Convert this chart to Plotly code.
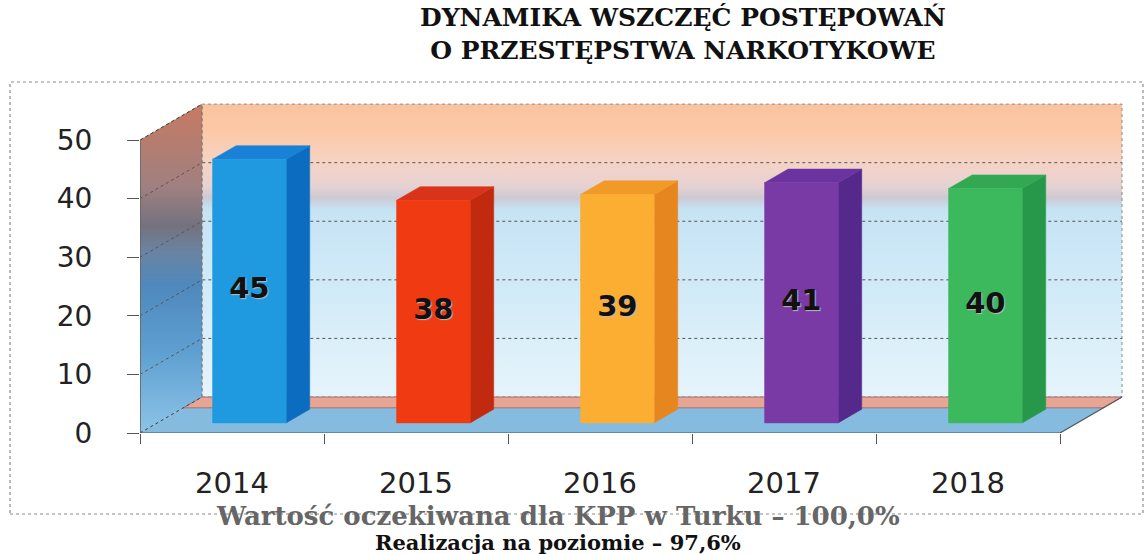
import plotly.graph_objects as go

# ---------------- data ----------------
years = ["2014", "2015", "2016", "2017", "2018"]
values = [45, 38, 39, 41, 40]
front_colors = ["#1f9ae0", "#f03a12", "#fbae32", "#7a3aa6", "#3cb95c"]
side_colors = ["#0b6cc0", "#c22a10", "#e6861e", "#55288c", "#27974a"]
top_colors = ["#1982d6", "#d9341a", "#f29a28", "#6a33a0", "#33a852"]
y_ticks = [0, 10, 20, 30, 40, 50]
title_lines = ["DYNAMIKA WSZCZĘĆ POSTĘPOWAŃ", "O PRZESTĘPSTWA NARKOTYKOWE"]
note_lines = ["Wartość oczekiwana dla KPP w Turku – 100,0%", "Realizacja na poziomie – 97,6%"]

# ---------------- geometry (oblique projection) ----------------
W, H = 1145, 554
L_PX, R_PX, T_PX, B_PX = 140, 1130, 95, 433
PX_X = 184.0
X0 = -0.5
X1 = X0 + (R_PX - L_PX) / PX_X
Y_TOP = 57.7
PX_Y = (B_PX - T_PX) / Y_TOP
DX = 62.0 / PX_X          # depth offset in x units
DY = 36.0 / PX_Y          # depth offset in y units
D0, D1 = 0.28, 0.66       # bar depth range
HALF = 0.2                # half bar width
N = len(years)
XMIN, XMAX = -0.5, N - 0.5
YMAX = max(y_ticks)


def proj(x, y, d):
    return x + d * DX, y + d * DY


def poly(pts):
    xs = [p[0] for p in pts] + [pts[0][0]]
    ys = [p[1] for p in pts] + [pts[0][1]]
    return xs, ys


def px2paper(px, py):
    return (px - L_PX) / (R_PX - L_PX), (B_PX - py) / (B_PX - T_PX)


fig = go.Figure()

# back wall
bw = [proj(XMIN, 0, 1), proj(XMAX, 0, 1), proj(XMAX, YMAX, 1), proj(XMIN, YMAX, 1)]
xs, ys = poly(bw)
fig.add_trace(go.Scatter(
    x=xs, y=ys, mode="lines", fill="toself",
    line=dict(color="#8a8a8a", width=1, dash="dot"),
    fillgradient=dict(type="vertical", colorscale=[
        [0.0, "#e6f4fb"], [0.35, "#d2ebf8"], [0.64, "#c6e3f4"], [0.68, "#cccad3"],
        [0.72, "#e6d2d3"], [0.80, "#f6d3c5"], [0.9, "#fbc9a8"], [1.0, "#f9c39e"]]),
    hoverinfo="skip", showlegend=False))

# left wall
lw = [proj(XMIN, 0, 0), proj(XMIN, 0, 1), proj(XMIN, YMAX, 1), proj(XMIN, YMAX, 0)]
xs, ys = poly(lw)
fig.add_trace(go.Scatter(
    x=xs, y=ys, mode="lines", fill="toself",
    line=dict(color="#6f6f6f", width=1, dash="dot"),
    fillgradient=dict(type="vertical", colorscale=[
        [0.0, "#8cc4e8"], [0.25, "#5e9fd0"], [0.45, "#4f88bd"], [0.55, "#6a84a2"],
        [0.63, "#74727e"], [0.75, "#a08080"], [1.0, "#c77a62"]]),
    hoverinfo="skip", showlegend=False))

# floor (blue front part + pink back strip)
fl = [proj(XMIN, 0, 0), proj(XMAX, 0, 0), proj(XMAX, 0, 0.7), proj(XMIN, 0, 0.7)]
xs, ys = poly(fl)
fig.add_trace(go.Scatter(x=xs, y=ys, mode="lines", fill="toself", fillcolor="#86bbe0",
                         line=dict(color="#86bbe0", width=0.5), hoverinfo="skip", showlegend=False))
fp = [proj(XMIN, 0, 0.7), proj(XMAX, 0, 0.7), proj(XMAX, 0, 1), proj(XMIN, 0, 1)]
xs, ys = poly(fp)
fig.add_trace(go.Scatter(x=xs, y=ys, mode="lines", fill="toself", fillcolor="#e7a596",
                         line=dict(color="#a07070", width=1), hoverinfo="skip", showlegend=False))
# floor outline
fo = [proj(XMIN, 0, 0), proj(XMAX, 0, 0), proj(XMAX, 0, 1)]
fig.add_trace(go.Scatter(x=[p[0] for p in fo], y=[p[1] for p in fo], mode="lines",
                         line=dict(color="#555555", width=1.2), hoverinfo="skip", showlegend=False))

# gridlines on walls
gx, gy = [], []
for t in y_ticks[1:-1]:
    a = proj(XMIN, t, 0)
    b = proj(XMIN, t, 1)
    c = proj(XMAX, t, 1)
    gx += [a[0], b[0], c[0], None]
    gy += [a[1], b[1], c[1], None]
fig.add_trace(go.Scatter(x=gx, y=gy, mode="lines", line=dict(color="#555555", width=1, dash="dot"),
                         hoverinfo="skip", showlegend=False))
# left wall diagonals at 0 and 50
for t in [0, YMAX]:
    a = proj(XMIN, t, 0)
    b = proj(XMIN, t, 1)
    fig.add_trace(go.Scatter(x=[a[0], b[0]], y=[a[1], b[1]], mode="lines",
                             line=dict(color="#444444", width=1, dash="dot"),
                             hoverinfo="skip", showlegend=False))

# front vertical axis line
fig.add_trace(go.Scatter(x=[XMIN, XMIN], y=[0, YMAX], mode="lines",
                         line=dict(color="#666666", width=1.5), hoverinfo="skip", showlegend=False))

# bars
for i, v in enumerate(values):
    c = i
    f = [proj(c - HALF, 0, D0), proj(c + HALF, 0, D0), proj(c + HALF, v, D0), proj(c - HALF, v, D0)]
    s = [proj(c + HALF, 0, D0), proj(c + HALF, 0, D1), proj(c + HALF, v, D1), proj(c + HALF, v, D0)]
    tp = [proj(c - HALF, v, D0), proj(c + HALF, v, D0), proj(c + HALF, v, D1), proj(c - HALF, v, D1)]
    for pts, col in [(s, side_colors[i]), (tp, top_colors[i]), (f, front_colors[i])]:
        xs, ys = poly(pts)
        fig.add_trace(go.Scatter(x=xs, y=ys, mode="lines", fill="toself", fillcolor=col,
                                 line=dict(color=col, width=0.5), hoverinfo="skip", showlegend=False))

# value labels
lx = [proj(i, v / 2, D0)[0] for i, v in enumerate(values)]
ly = [proj(i, v / 2, D0)[1] for i, v in enumerate(values)]
fig.add_trace(go.Scatter(x=lx, y=ly, mode="text", text=[str(v) for v in values],
                         textfont=dict(family="DejaVu Sans", size=29, color="#111111", weight="bold",
                                       shadow="1px 1px 1px #bbbbbb"),
                         hoverinfo="skip", showlegend=False))

# outer border
bx0, by0 = px2paper(10, 82)
bx1, by1 = px2paper(1143, 514)
fig.add_shape(type="rect", xref="paper", yref="paper", x0=bx0, y0=by1, x1=bx1, y1=by0,
              line=dict(color="#8a8a8a", width=1.2, dash="dot"), layer="below")

# title (two lines)
tx, ty = px2paper(683, 34)
fig.add_annotation(x=tx, y=ty, xref="paper", yref="paper", text="<br>".join(title_lines),
                   showarrow=False, align="center",
                   font=dict(family="DejaVu Serif", size=25, color="#111111", weight="bold"),
                   xanchor="center", yanchor="middle")

# bottom notes
for txt, py, col, sz in zip(note_lines, [516, 542], ["#666666", "#111111"], [26, 21]):
    nx, ny = px2paper(558, py)
    fig.add_annotation(x=nx, y=ny, xref="paper", yref="paper", text=txt, showarrow=False,
                       font=dict(family="DejaVu Serif", size=sz, color=col, weight="bold"),
                       xanchor="center", yanchor="middle")

fig.update_layout(
    width=W, height=H,
    margin=dict(l=L_PX, r=W - R_PX, t=T_PX, b=H - B_PX),
    paper_bgcolor="white", plot_bgcolor="rgba(0,0,0,0)",
    xaxis=dict(range=[X0, X1], tickmode="array", tickvals=list(range(N)), ticktext=years,
               ticks="", showgrid=False, zeroline=False, showline=False,
               tickfont=dict(family="DejaVu Sans", size=29, color="#222222"),
               ticklabelstandoff=30,
               minor=dict(tickmode="array", tickvals=[k - 0.5 for k in range(N + 1)],
                          ticks="outside", ticklen=10, tickcolor="#555555", tickwidth=1.2, showgrid=False)),
    yaxis=dict(range=[0, Y_TOP], tickmode="array", tickvals=y_ticks,
               ticks="outside", ticklen=12, tickcolor="#555555", tickwidth=1.2,
               showgrid=False, zeroline=False, showline=False,
               tickfont=dict(family="DejaVu Sans", size=28, color="#222222"),
               ticklabelstandoff=29),
)

fig.write_html("out.html", config={"displayModeBar": False},
               post_script="document.body.style.margin='0px';document.body.style.overflow='hidden';")
